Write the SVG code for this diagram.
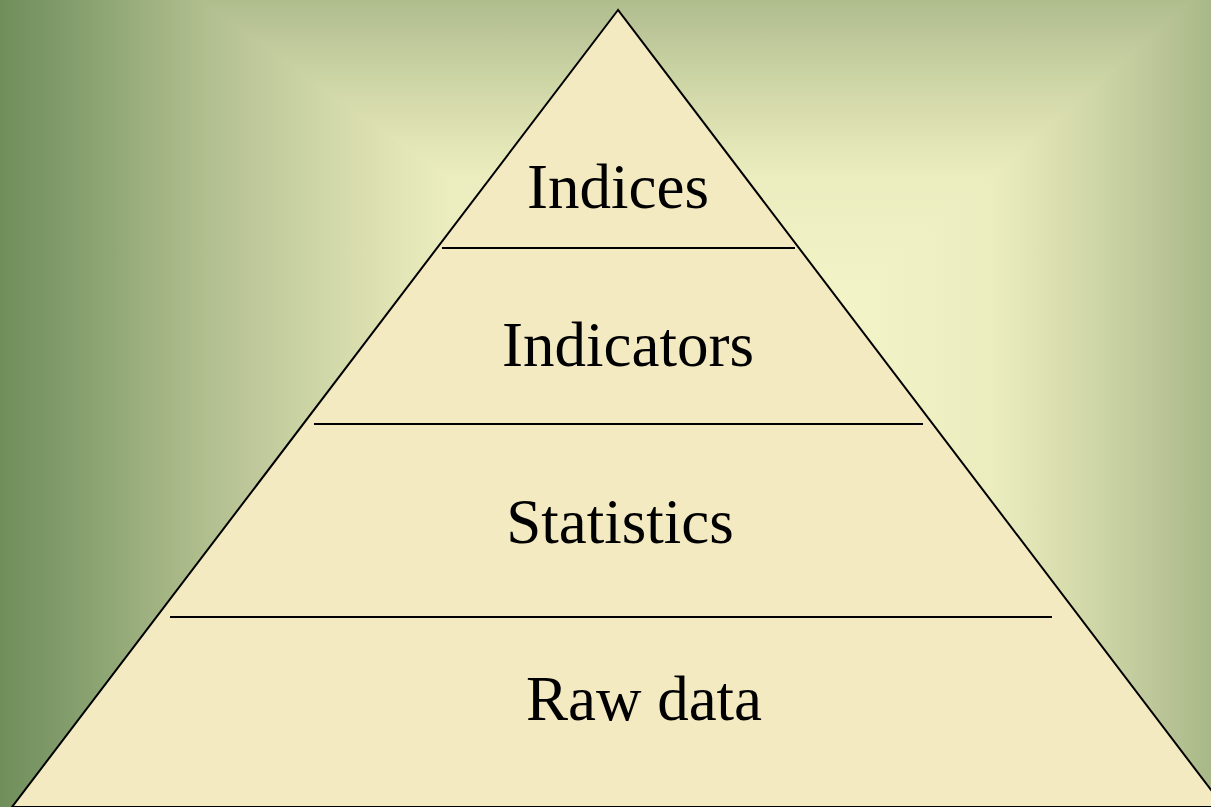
<svg xmlns="http://www.w3.org/2000/svg" width="1211" height="807" viewBox="0 0 1211 807">
<defs>
<linearGradient id="gL" gradientUnits="userSpaceOnUse" x1="0" y1="0" x2="748" y2="0">
<stop offset="0" stop-color="#6f8f5a"/>
<stop offset="0.067" stop-color="#7e9868"/>
<stop offset="0.134" stop-color="#8ca572"/>
<stop offset="0.2" stop-color="#9fb180"/>
<stop offset="0.267" stop-color="#afbd8d"/>
<stop offset="0.334" stop-color="#bdc79a"/>
<stop offset="0.4" stop-color="#c9d2a2"/>
<stop offset="0.47" stop-color="#d7dcad"/>
<stop offset="0.535" stop-color="#e2e5b5"/>
<stop offset="0.6" stop-color="#ebedbf"/>
<stop offset="1" stop-color="#f8f8cc"/>
</linearGradient>
<linearGradient id="gR" href="#gL" x1="1355" y1="0" x2="748" y2="0"/>
<linearGradient id="gT" href="#gL" x1="0" y1="-142" x2="0" y2="389"/>
</defs>
<style>
.lbl{font-family:"Liberation Serif","Times New Roman",serif;font-size:63px;fill:#000;text-anchor:middle}
.div{stroke:#000;stroke-width:2;fill:none}
.bg{shape-rendering:crispEdges}
</style>
<g id="background">
<rect class="bg" x="0" y="0" width="1211" height="807" fill="#c8d2a2"/>
<polygon class="bg" points="0,-142 748,389 0,1300" fill="url(#gL)"/>
<polygon class="bg" points="1355,-142 748,389 1355,1300" fill="url(#gR)"/>
<polygon class="bg" points="0,-142 1355,-142 748,389" fill="url(#gT)"/>
</g>
<g id="pyramid">
<polygon points="618,10 12,807 1224,807" fill="#f3eac2" stroke="#000" stroke-width="2"/>
</g>
<g id="connectors">
<line class="div" x1="442" y1="248" x2="795" y2="248"/>
<line class="div" x1="314" y1="424" x2="923" y2="424"/>
<line class="div" x1="170" y1="617" x2="1052" y2="617"/>
</g>
<g id="node-indices"><text class="lbl" x="618" y="208">Indices</text></g>
<g id="node-indicators"><text class="lbl" x="628" y="366">Indicators</text></g>
<g id="node-statistics"><text class="lbl" x="620" y="543">Statistics</text></g>
<g id="node-rawdata"><text class="lbl" x="644" y="720">Raw data</text></g>
</svg>
